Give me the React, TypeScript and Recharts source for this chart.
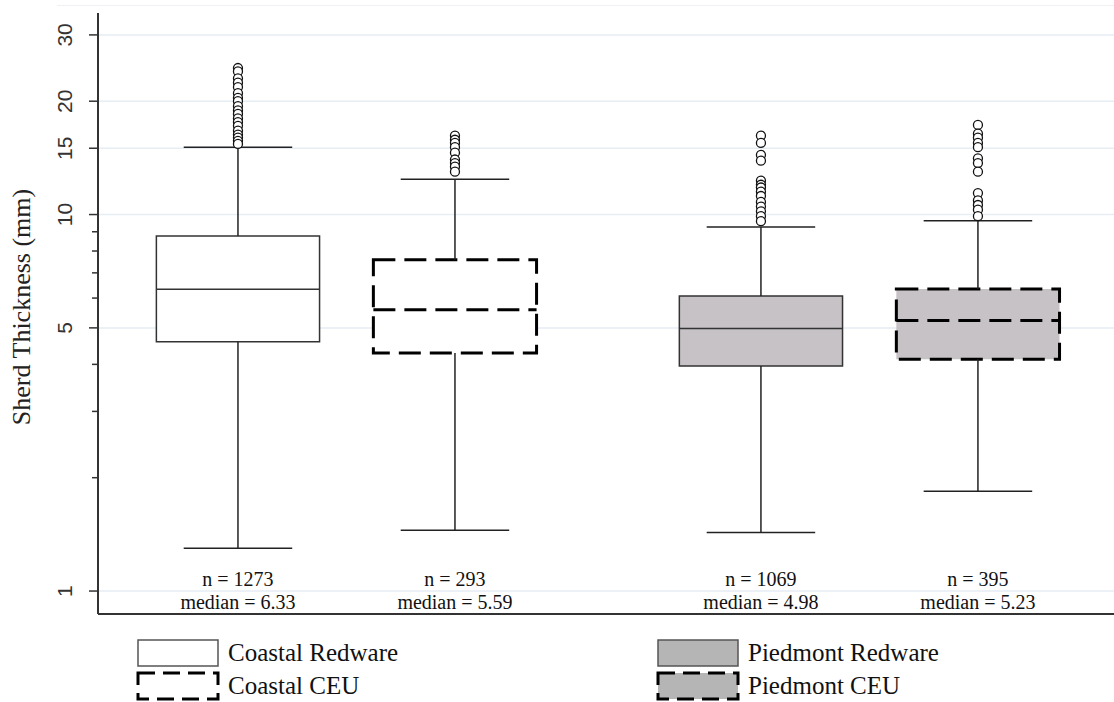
import {
  ComposedChart,
  XAxis,
  YAxis,
  CartesianGrid,
  ReferenceArea,
  ReferenceLine,
  Scatter,
} from 'recharts'

// groups along the x axis (Stata style: two pairs with a wider gap between)
const groups = ['Coastal Redware', 'Coastal CEU', 'Piedmont Redware', 'Piedmont CEU']
const positions = [1, 2, 3.41, 4.41]
const counts = [1273, 293, 1069, 395]
const medians = [6.33, 5.59, 4.98, 5.23]
const q1 = [4.59, 4.29, 3.96, 4.13]
const q3 = [8.77, 7.58, 6.08, 6.34]
const lowerWhisker = [1.3, 1.45, 1.43, 1.84]
const upperWhisker = [15.1, 12.4, 9.27, 9.62]
const outliers = [
  [24.5, 24, 23, 22.4, 21.8, 21, 20.4, 20, 19.4, 18.9, 18.5, 18, 17.6, 17.2, 16.7, 16.3, 16, 15.7, 15.4],
  [16.2, 15.8, 15.5, 15.1, 14.6, 14, 13.7, 13.4, 13],
  [16.2, 15.5, 14.4, 13.9, 12.3, 12, 11.8, 11.5, 11.2, 10.8, 10.5, 10.2, 9.9, 9.6],
  [17.3, 16.4, 16, 15.5, 15.1, 14.1, 13.7, 13, 11.4, 10.9, 10.6, 10.3, 9.9],
]

const majorTicks = [1, 5, 10, 15, 20, 30]
const allTicks = [1, 2, 3, 4, 5, 6, 7, 8, 9, 10, 15, 20, 30]

// styles
const BOX_FILL = ['#ffffff', '#ffffff', '#c6c2c6', '#c6c2c6']
const LEGEND_FILL = ['#ffffff', '#ffffff', '#b5b5b5', '#b5b5b5']
const DASHED = [false, true, false, true]
const BOX_HALF = 0.376
const CAP_HALF = 0.25
const SERIF = '"Liberation Serif", "Times New Roman", serif'
const SANS = '"Liberation Sans", Arial, sans-serif'

function YTick({ x, y, payload }: any) {
  const major = majorTicks.includes(payload.value)
  return (
    <g>
      <line x1={x - (major ? 9 : 6)} x2={x} y1={y} y2={y} stroke="#333" strokeWidth={1.5} />
      {major && (
        <text
          x={x - 26}
          y={y}
          transform={`rotate(-90, ${x - 26}, ${y})`}
          textAnchor="middle"
          fontFamily={SANS}
          fontSize={21}
          fill="#333"
        >
          {payload.value}
        </text>
      )}
    </g>
  )
}

function GroupTick({ x, y, payload }: any) {
  const i = positions.indexOf(payload.value)
  if (i < 0) return null
  return (
    <g fontFamily={SERIF} fontSize={20} fill="#111" textAnchor="middle">
      <text x={x} y={y - 28}>n = {counts[i]}</text>
      <text x={x} y={y - 5}>median = {medians[i].toFixed(2)}</text>
    </g>
  )
}

function Swatch({ i }: { i: number }) {
  return (
    <svg width={84} height={30} style={{ display: 'block' }}>
      <rect
        x={2}
        y={2}
        width={80}
        height={26}
        fill={LEGEND_FILL[i]}
        stroke={DASHED[i] ? '#000' : '#555'}
        strokeWidth={DASHED[i] ? 3 : 1.5}
        strokeDasharray={DASHED[i] ? '17 8' : undefined}
      />
    </svg>
  )
}

const legendSlots = [
  { left: 136, top: 638 },
  { left: 136, top: 671 },
  { left: 656, top: 638 },
  { left: 656, top: 671 },
]

export default function App() {
  return (
    <div style={{ position: 'relative', width: 1114, height: 702, background: '#fff' }}>
      <style>{'body{margin:0}'}</style>
      {/* faint outer graph region */}
      <div style={{ position: 'absolute', left: 57, top: 5, right: 0, borderTop: '1.5px solid #eef0f4' }} />

      <ComposedChart
        width={1114}
        height={702}
        margin={{ top: 13, right: 0, bottom: 58, left: 0 }}
      >
        <CartesianGrid
          horizontal
          vertical={false}
          horizontalValues={majorTicks}
          stroke="#e6edf4"
          strokeWidth={1.5}
        />
        <XAxis
          type="number"
          dataKey="x"
          domain={[0.355, 5.037]}
          allowDataOverflow
          ticks={positions}
          tick={<GroupTick />}
          tickLine={false}
          tickSize={0}
          tickMargin={0}
          height={30}
          axisLine={{ stroke: '#333', strokeWidth: 2 }}
        />
        <YAxis
          type="number"
          dataKey="y"
          scale="log"
          domain={[0.869, 34.3]}
          allowDataOverflow
          ticks={allTicks}
          interval={0}
          tick={<YTick />}
          tickLine={false}
          tickSize={0}
          tickMargin={0}
          width={98}
          axisLine={{ stroke: '#333', strokeWidth: 2 }}
          label={{
            content: () => (
              <text
                x={30}
                y={307}
                transform="rotate(-90, 30, 307)"
                textAnchor="middle"
                fontFamily={SERIF}
                fontSize={26}
                fill="#222"
              >
                Sherd Thickness (mm)
              </text>
            ),
          }}
        />

        {groups.map((g, i) => {
          const c = positions[i]
          const dash = DASHED[i] ? '22 9' : undefined
          const boxStroke = DASHED[i] ? '#000' : '#333'
          const boxWidth = DASHED[i] ? 3 : 1.5
          return [
            <ReferenceLine
              key={`${g}-uw`}
              segment={[{ x: c, y: q3[i] }, { x: c, y: upperWhisker[i] }]}
              stroke="#222"
              strokeWidth={1.5}
            />,
            <ReferenceLine
              key={`${g}-lw`}
              segment={[{ x: c, y: lowerWhisker[i] }, { x: c, y: q1[i] }]}
              stroke="#222"
              strokeWidth={1.5}
            />,
            <ReferenceLine
              key={`${g}-uc`}
              segment={[{ x: c - CAP_HALF, y: upperWhisker[i] }, { x: c + CAP_HALF, y: upperWhisker[i] }]}
              stroke="#222"
              strokeWidth={1.5}
            />,
            <ReferenceLine
              key={`${g}-lc`}
              segment={[{ x: c - CAP_HALF, y: lowerWhisker[i] }, { x: c + CAP_HALF, y: lowerWhisker[i] }]}
              stroke="#222"
              strokeWidth={1.5}
            />,
            <ReferenceArea
              key={`${g}-box`}
              x1={c - BOX_HALF}
              x2={c + BOX_HALF}
              y1={q1[i]}
              y2={q3[i]}
              fill={BOX_FILL[i]}
              fillOpacity={1}
              stroke={boxStroke}
              strokeWidth={boxWidth}
              strokeDasharray={dash}
            />,
            <ReferenceLine
              key={`${g}-med`}
              segment={[{ x: c - BOX_HALF, y: medians[i] }, { x: c + BOX_HALF, y: medians[i] }]}
              stroke={boxStroke}
              strokeWidth={boxWidth}
              strokeDasharray={dash}
            />,
          ]
        })}

        {groups.map((g, i) => (
          <Scatter
            key={`${g}-out`}
            name={g}
            data={outliers[i].map((v) => ({ x: positions[i], y: v }))}
            isAnimationActive={false}
            shape={(p: any) => (
              <circle cx={p.cx} cy={p.cy} r={4.5} fill="#fff" stroke="#111" strokeWidth={1.3} />
            )}
          />
        ))}
      </ComposedChart>

      {/* Legend */}
      {groups.map((g, i) => (
        <div
          key={g}
          style={{
            position: 'absolute',
            left: legendSlots[i].left,
            top: legendSlots[i].top,
            display: 'flex',
            alignItems: 'center',
            gap: 8,
            fontFamily: SERIF,
            fontSize: 25,
            color: '#111',
            lineHeight: '30px',
          }}
        >
          <Swatch i={i} />
          <span>{g}</span>
        </div>
      ))}
    </div>
  )
}
